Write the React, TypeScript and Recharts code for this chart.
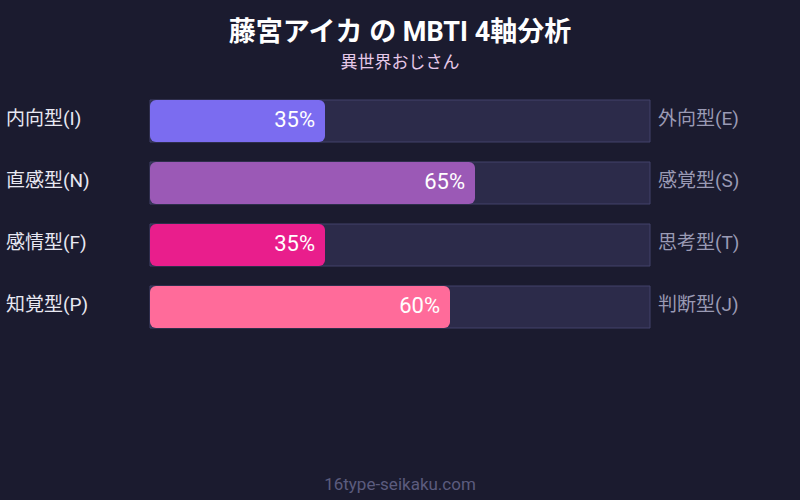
import React from 'react';
import { BarChart, Bar, XAxis, YAxis, Cell, LabelList } from 'recharts';

const leftLabels = ['内向型(I)', '直感型(N)', '感情型(F)', '知覚型(P)'];
const rightLabels = ['外向型(E)', '感覚型(S)', '思考型(T)', '判断型(J)'];
const values = [35, 65, 35, 60];
const colors = ['#7b6cf0', '#9b59b6', '#e91e8c', '#ff6b9a'];
const title = '藤宮アイカ の MBTI 4軸分析';
const subtitle = '異世界おじさん';
const footer = '16type-seikaku.com';

const data = leftLabels.map((l, i) => ({ left: l, right: rightLabels[i], value: values[i] }));

const FONT = "Roboto, 'Noto Sans CJK JP', sans-serif";

const LeftTick = (props: any) => {
  const { y, payload } = props;
  return (
    <text x={6} y={y} dy={4} fill="#e8e8f2" fontSize={19} fontFamily={FONT} textAnchor="start">
      {payload.value}
    </text>
  );
};

const RightTick = (props: any) => {
  const { x, y, payload } = props;
  return (
    <text x={x} y={y} dy={4} fill="#9a9ab4" fontSize={19} fontFamily={FONT} textAnchor="start">
      {payload.value}
    </text>
  );
};

const ValueLabel = (props: any) => {
  const { x, y, width, height, value } = props;
  return (
    <text x={x + width - 10} y={y + height / 2} dy={6} fill="#ffffff" fontSize={22} fontWeight={400} fontFamily={FONT} textAnchor="end">
      {value}%
    </text>
  );
};

export default function App() {
  return (
    <div style={{ position: 'absolute', left: 0, top: 0, width: 800, height: 500, background: '#1b1b2f', fontFamily: FONT }}>
      <div style={{ position: 'absolute', top: 14, width: 800, textAlign: 'center', color: '#ffffff', fontSize: 27, fontWeight: 700, lineHeight: '36px' }}>
        {title}
      </div>
      <div style={{ position: 'absolute', top: 50, width: 800, textAlign: 'center', color: '#e6c8e8', fontSize: 17, lineHeight: '24px' }}>
        {subtitle}
      </div>
      <BarChart
        width={800}
        height={500}
        data={data}
        layout="vertical"
        margin={{ top: 90, right: 0, bottom: 162, left: 0 }}
        barCategoryGap={10}
      >
        <XAxis type="number" domain={[0, 100]} hide />
        <YAxis yAxisId="l" type="category" dataKey="left" width={150} axisLine={false} tickLine={false} tick={<LeftTick />} />
        <YAxis yAxisId="r" orientation="right" type="category" dataKey="right" width={150} axisLine={false} tickLine={false} tick={<RightTick />} />
        <Bar
          yAxisId="l"
          dataKey="value"
          isAnimationActive={false}
          radius={6}
          background={{ fill: '#2c2b4a', stroke: '#43436a', strokeWidth: 1 }}
        >
          {data.map((d, i) => (
            <Cell key={i} fill={colors[i]} />
          ))}
          <LabelList dataKey="value" content={<ValueLabel />} />
        </Bar>
      </BarChart>
      <div style={{ position: 'absolute', top: 474, width: 800, textAlign: 'center', color: '#5c5c7e', fontSize: 17, lineHeight: '20px' }}>
        {footer}
      </div>
    </div>
  );
}
